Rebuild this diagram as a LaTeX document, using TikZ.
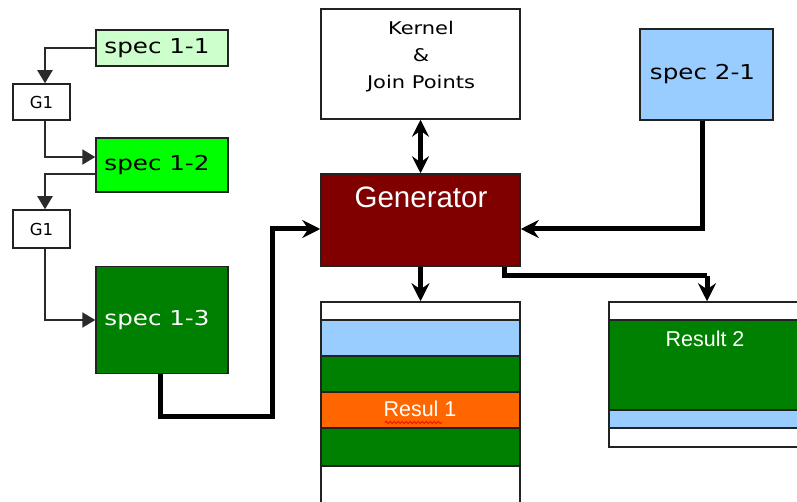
\documentclass[tikz,border=0pt]{standalone}
\usepackage{fontspec}
\setmainfont{DejaVu Sans}
\newfontfamily\pixfont[FakeStretch=1.2]{DejaVu Sans}
\newfontfamily\plainfont{DejaVu Sans}
\newfontfamily\arialfont{Liberation Sans}
\usetikzlibrary{arrows.meta,decorations.pathmorphing}
\definecolor{edge}{HTML}{222222}
\definecolor{thinc}{HTML}{2A2A2A}
\definecolor{lgreen}{HTML}{CCFFCC}
\definecolor{bgreen}{HTML}{00FF00}
\definecolor{dgreen}{HTML}{008000}
\definecolor{lblue}{HTML}{99CCFF}
\definecolor{maroon}{HTML}{800000}
\definecolor{orng}{HTML}{FF6600}
\begin{document}
\begin{tikzpicture}[x=1pt,y=1pt,
  box/.style={draw=edge, line width=1.5pt, inner sep=0pt, anchor=center},
  spectxt/.style={font=\fontsize{20.5}{24}\pixfont},
  gtxt/.style={font=\fontsize{16.5}{20}\plainfont},
  thinarrow/.style={draw=thinc, line width=2pt, -{Triangle[length=13pt,width=15pt]}},
  thickline/.style={draw=black, line width=5pt},
  thickarrow/.style={thickline, -{Stealth[length=18pt,width=18pt,inset=6pt]}},
  dblarrow/.style={thickline, {Stealth[length=17pt,width=17pt,inset=6pt]}-{Stealth[length=17pt,width=17pt,inset=6pt]}},
  restxt/.style={text=white, font=\fontsize{21.5}{24}\arialfont, inner sep=0pt}
]
\useasboundingbox (0,0) rectangle (797,-502);
\clip (0,0) rectangle (797,-502);
\fill[white] (0,0) rectangle (797,-502);

% left chain
\node[box, fill=lgreen, minimum width=132, minimum height=36, spectxt] (s11) at (162,-48) {spec 1-1\hspace*{10pt}};
\node[box, fill=white, minimum width=57, minimum height=36, gtxt] (g1a) at (41.5,-102) {G1};
\node[box, fill=bgreen, minimum width=132, minimum height=54, spectxt] (s12) at (162,-165) {spec 1-2\hspace*{10pt}};
\node[box, fill=white, minimum width=57, minimum height=38, gtxt] (g1b) at (41.5,-229) {G1};
\node[box, fill=dgreen, minimum width=132, minimum height=107, spectxt, text=white] (s13) at (162,-320) {spec 1-3\hspace*{10pt}};

% kernel
\node[box, fill=white, minimum width=199, minimum height=110] (kern) at (420.5,-64) {};
\node[font=\fontsize{17.5}{27}\pixfont, align=center, inner sep=0pt] (kerntxt) at (421,-57) {Kernel\\\&\\Join Points};

% spec 2-1
\node[box, fill=lblue, minimum width=133, minimum height=91, spectxt] (s21) at (706.5,-74.5) {spec 2-1\hspace*{8pt}};

% generator
\node[box, fill=maroon, minimum width=199, minimum height=92] (gen) at (420.5,-220) {};
\node[text=white, font=\fontsize{29.5}{32}\arialfont, inner sep=0pt] (gentxt) at (421,-197) {Generator};

% result 1 stack
\node[box, fill=white, minimum width=199, minimum height=18] (r1a) at (420.5,-311) {};
\node[box, fill=lblue, minimum width=199, minimum height=36] (r1b) at (420.5,-338) {};
\node[box, fill=dgreen, minimum width=199, minimum height=36] (r1c) at (420.5,-374) {};
\node[box, fill=orng, minimum width=199, minimum height=36] (r1d) at (420.5,-410) {};
\node[box, fill=dgreen, minimum width=199, minimum height=38] (r1e) at (420.5,-447) {};
\node[box, fill=white, minimum width=199, minimum height=49] (r1f) at (420.5,-490.5) {};
\node[restxt] (r1txt) at (420,-409) {Resul 1};
\draw[red, line width=0.8pt, decorate, decoration={snake, amplitude=1.2pt, segment length=4pt}] (385,-422.5) -- (442,-422.5);

% result 2 stack
\node[box, fill=white, minimum width=221, minimum height=18] (r2a) at (719.5,-311) {};
\node[box, fill=dgreen, minimum width=221, minimum height=90] (r2b) at (719.5,-365) {};
\node[box, fill=lblue, minimum width=221, minimum height=18] (r2c) at (719.5,-419) {};
\node[box, fill=white, minimum width=221, minimum height=19] (r2d) at (719.5,-437.5) {};
\node[restxt] (r2txt) at (705,-339) {Result 2};

% thin connectors
\draw[thinarrow] (s11.west) -| ([xshift=3.5pt]g1a.north);
\draw[thinarrow] ([xshift=3.5pt]g1a.south) |- ([yshift=8pt]s12.west);
\draw[thinarrow] ([yshift=-9pt]s12.west) -| ([xshift=3.5pt]g1b.north);
\draw[thinarrow] ([xshift=3.5pt]g1b.south) |- (s13.west);

% thick connectors
\coordinate (c1) at (272,-416);
\draw[thickarrow] ([xshift=-2pt]s13.south) |- (c1) |- ([yshift=-9pt]gen.west);
\draw[thickarrow] ([xshift=-4.5pt]s21.south) |- ([yshift=-9pt]gen.east);
\draw[dblarrow] (kern.south) -- (gen.north);
\draw[thickarrow] (gen.south) -- (r1a.north);
\coordinate (c2) at (707,-276);
\draw[thickline] ([xshift=84pt]gen.south) |- (c2);
\draw[thickarrow] (c2) -- (c2 |- r2a.north);
\end{tikzpicture}
\end{document}
